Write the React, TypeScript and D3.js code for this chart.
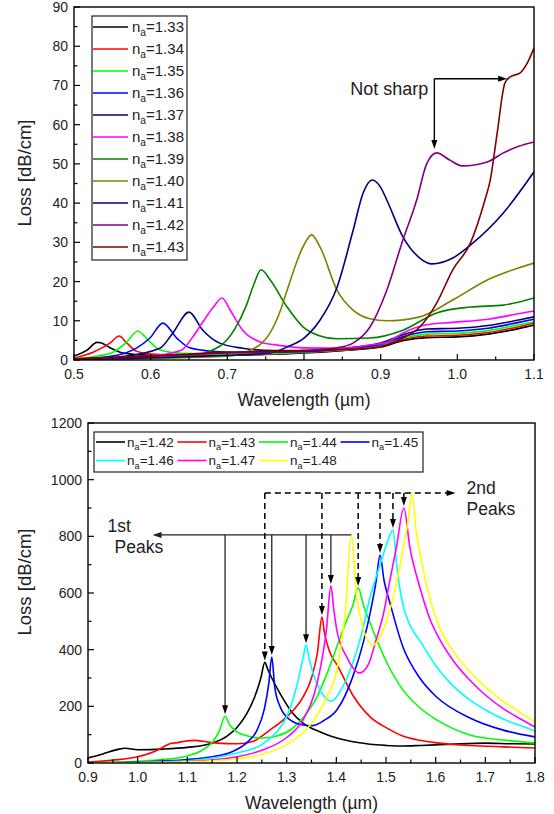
import React from "react";
import * as d3 from "d3";

type Pt = [number, number];

// ---- top panel: loss vs wavelength for n_a = 1.33 ... 1.43 ----
const topIndices = ["1.33", "1.34", "1.35", "1.36", "1.37", "1.38", "1.39", "1.40", "1.41", "1.42", "1.43"];
const topColors = ["#000000", "#ff0000", "#00ff00", "#0000ff", "#000080", "#ff00ff", "#008000", "#808000", "#000080", "#800080", "#800000"];

const loss133: Pt[] = [[0.5, 1.0], [0.517, 2.5], [0.53, 4.5], [0.535, 4.4], [0.547, 3.1], [0.56, 2.0], [0.575, 1.5], [0.6, 1.2], [0.65, 1.1], [0.7, 1.2], [0.75, 1.4], [0.8, 1.8], [0.85, 2.4], [0.9, 3.3], [0.93, 5.0], [0.96, 5.7], [1.0, 5.9], [1.04, 6.6], [1.08, 8.0], [1.1, 8.9]];
const loss134: Pt[] = [[0.5, 0.5], [0.525, 2.0], [0.547, 4.3], [0.559, 6.1], [0.569, 4.3], [0.582, 2.2], [0.6, 1.5], [0.65, 1.2], [0.7, 1.3], [0.75, 1.5], [0.8, 1.9], [0.85, 2.5], [0.9, 3.5], [0.93, 5.3], [0.96, 6.1], [1.0, 6.3], [1.04, 7.0], [1.08, 8.5], [1.1, 9.4]];
const loss135: Pt[] = [[0.5, 0.3], [0.53, 1.0], [0.551, 2.0], [0.569, 4.6], [0.583, 7.4], [0.599, 4.6], [0.612, 2.6], [0.64, 1.7], [0.7, 1.5], [0.75, 1.6], [0.8, 2.0], [0.85, 2.6], [0.9, 3.7], [0.93, 5.6], [0.96, 6.6], [1.0, 6.8], [1.04, 7.5], [1.08, 9.0], [1.1, 9.7]];
const loss136: Pt[] = [[0.5, 0.2], [0.55, 1.0], [0.582, 3.1], [0.599, 5.6], [0.616, 9.4], [0.634, 5.6], [0.651, 3.1], [0.68, 2.2], [0.72, 1.9], [0.8, 2.1], [0.85, 2.8], [0.9, 4.0], [0.93, 6.0], [0.96, 7.2], [1.0, 7.4], [1.04, 8.1], [1.08, 9.6], [1.1, 10.4]];
const loss137: Pt[] = [[0.5, 0.1], [0.56, 0.8], [0.612, 3.0], [0.629, 6.9], [0.65, 12.2], [0.668, 7.6], [0.69, 4.3], [0.72, 3.0], [0.76, 2.4], [0.8, 2.4], [0.85, 3.0], [0.9, 4.3], [0.93, 6.5], [0.96, 7.9], [1.0, 8.1], [1.04, 8.8], [1.08, 10.2], [1.1, 11.0]];
const loss138: Pt[] = [[0.5, 0.1], [0.6, 1.0], [0.64, 2.5], [0.655, 5.9], [0.668, 9.7], [0.682, 13.5], [0.693, 15.8], [0.705, 12.3], [0.72, 7.6], [0.743, 4.6], [0.765, 3.8], [0.8, 3.1], [0.85, 3.0], [0.886, 3.8], [0.908, 4.5], [0.929, 6.9], [0.96, 9.0], [0.994, 9.6], [1.04, 10.4], [1.08, 11.8], [1.1, 12.5]];
const loss139: Pt[] = [[0.5, 0.1], [0.65, 1.0], [0.69, 3.5], [0.71, 8], [0.725, 14], [0.735, 19.5], [0.744, 23], [0.756, 20.4], [0.778, 13.5], [0.799, 8.4], [0.82, 6.2], [0.843, 5.4], [0.886, 5.6], [0.929, 7.6], [0.973, 12], [1.017, 13.5], [1.06, 14], [1.1, 15.8]];
const loss140: Pt[] = [[0.5, 0.1], [0.7, 1.0], [0.73, 2.5], [0.745, 4.3], [0.756, 7], [0.769, 12.5], [0.778, 17.8], [0.799, 29], [0.81, 31.9], [0.821, 28.8], [0.843, 17.8], [0.864, 12.7], [0.886, 10.5], [0.908, 10], [0.951, 11], [0.994, 15.3], [1.039, 20.4], [1.1, 24.7]];
const loss141: Pt[] = [[0.5, 0.1], [0.7, 1.2], [0.756, 1.8], [0.78, 3.5], [0.8, 5.6], [0.821, 10.2], [0.843, 18.5], [0.864, 33], [0.877, 42.5], [0.889, 45.9], [0.9, 44], [0.908, 40.8], [0.929, 31.4], [0.951, 26], [0.967, 24.5], [0.994, 26], [1.017, 29.3], [1.06, 37.5], [1.1, 48]];
const loss142: Pt[] = [[0.5, 0.1], [0.7, 1.8], [0.8, 2.4], [0.843, 3.1], [0.864, 4.3], [0.886, 8.4], [0.908, 17.8], [0.929, 30.6], [0.947, 40.8], [0.96, 50], [0.973, 52.8], [0.99, 51], [1.006, 49.5], [1.039, 50.5], [1.06, 52.8], [1.08, 54.5], [1.1, 55.6]];
const loss143: Pt[] = [[0.5, 0.3], [0.6, 1.0], [0.7, 2.0], [0.8, 2.4], [0.886, 3.0], [0.929, 5.6], [0.951, 8.4], [0.973, 14.5], [0.994, 23], [1.017, 29.8], [1.036, 40.8], [1.043, 45.9], [1.052, 57.9], [1.062, 70.6], [1.069, 72.2], [1.082, 73.2], [1.092, 76], [1.1, 79.6]];
const topSeries = [loss133, loss134, loss135, loss136, loss137, loss138, loss139, loss140, loss141, loss142, loss143];

const topXTicks = [0.5, 0.6, 0.7, 0.8, 0.9, 1.0, 1.1];
const topYTicks = [0, 10, 20, 30, 40, 50, 60, 70, 80, 90];

// "Not sharp" pointers: corner, tip on n_a=1.42 bump, tip on n_a=1.43 shoulder
const notSharpCorner: Pt = [0.97, 71.7];
const notSharpTips: Pt[] = [[0.97, 53.8], [1.065, 71.7]];

// ---- bottom panel: n_a = 1.42 ... 1.48, wavelength 0.9-1.8 µm ----
const bottomIndices = ["1.42", "1.43", "1.44", "1.45", "1.46", "1.47", "1.48"];
const bottomColors = ["#000000", "#ff0000", "#00ff00", "#0000ff", "#00ffff", "#ff00ff", "#ffff00"];

const bLoss142: Pt[] = [[0.9, 18], [0.93, 32], [0.96, 48], [0.975, 52], [1.0, 47], [1.05, 49], [1.1, 55], [1.15, 70], [1.18, 95], [1.2, 125], [1.22, 175], [1.235, 230], [1.248, 300], [1.256, 355], [1.262, 330], [1.27, 300], [1.29, 235], [1.31, 180], [1.333, 141], [1.37, 108], [1.401, 88], [1.44, 73], [1.468, 66], [1.5, 62], [1.534, 60], [1.57, 62], [1.6, 64], [1.65, 68], [1.7, 70], [1.75, 68], [1.8, 67]];
const bLoss143: Pt[] = [[0.9, 3], [0.95, 10], [1.0, 22], [1.03, 38], [1.05, 55], [1.065, 68], [1.08, 72], [1.1, 78], [1.115, 80], [1.13, 77], [1.16, 70], [1.2, 68], [1.23, 75], [1.266, 116], [1.3, 163], [1.333, 233], [1.35, 300], [1.362, 390], [1.371, 515], [1.376, 460], [1.386, 395], [1.403, 342], [1.433, 240], [1.468, 163], [1.502, 123], [1.534, 95], [1.568, 80], [1.602, 71], [1.669, 62], [1.736, 57], [1.8, 53]];
const bLoss144: Pt[] = [[0.9, 1], [1.0, 6], [1.05, 12], [1.1, 25], [1.13, 45], [1.15, 72], [1.165, 115], [1.176, 165], [1.185, 135], [1.2, 110], [1.22, 96], [1.25, 88], [1.28, 95], [1.31, 120], [1.333, 160], [1.36, 230], [1.38, 310], [1.401, 410], [1.42, 500], [1.433, 555], [1.444, 618], [1.455, 555], [1.468, 494], [1.502, 353], [1.534, 258], [1.568, 195], [1.602, 152], [1.669, 99], [1.736, 81], [1.8, 71]];
const bLoss145: Pt[] = [[0.9, 0], [1.0, 3], [1.1, 12], [1.15, 22], [1.19, 40], [1.22, 72], [1.24, 115], [1.255, 190], [1.264, 280], [1.27, 374], [1.276, 268], [1.287, 198], [1.307, 152], [1.333, 134], [1.353, 132], [1.375, 150], [1.401, 187], [1.433, 304], [1.455, 430], [1.468, 529], [1.48, 640], [1.488, 734], [1.496, 645], [1.508, 565], [1.534, 410], [1.568, 300], [1.602, 233], [1.669, 159], [1.736, 116], [1.8, 92]];
const bLoss146: Pt[] = [[0.9, 0], [1.0, 2], [1.1, 8], [1.2, 35], [1.25, 65], [1.28, 110], [1.3, 163], [1.32, 270], [1.333, 370], [1.339, 416], [1.345, 370], [1.353, 318], [1.367, 258], [1.39, 218], [1.41, 260], [1.433, 353], [1.45, 450], [1.468, 586], [1.49, 710], [1.502, 776], [1.514, 822], [1.522, 690], [1.528, 615], [1.534, 560], [1.545, 500], [1.555, 465], [1.568, 432], [1.602, 339], [1.635, 272], [1.669, 222], [1.7, 188], [1.736, 155], [1.77, 132], [1.8, 113]];
const bLoss147: Pt[] = [[0.9, 0], [1.0, 1], [1.1, 5], [1.2, 22], [1.25, 45], [1.3, 90], [1.333, 152], [1.355, 240], [1.367, 328], [1.38, 469], [1.389, 625], [1.395, 540], [1.401, 469], [1.421, 374], [1.447, 318], [1.465, 350], [1.48, 434], [1.494, 520], [1.508, 646], [1.521, 762], [1.536, 900], [1.548, 762], [1.568, 621], [1.588, 510], [1.61, 430], [1.635, 362], [1.669, 292], [1.7, 240], [1.736, 192], [1.77, 156], [1.8, 127]];
const bLoss148: Pt[] = [[0.9, 0], [1.0, 1], [1.1, 4], [1.2, 15], [1.25, 30], [1.3, 65], [1.35, 140], [1.38, 230], [1.401, 328], [1.418, 529], [1.43, 805], [1.441, 586], [1.453, 480], [1.474, 416], [1.494, 469], [1.521, 635], [1.534, 752], [1.545, 860], [1.552, 953], [1.56, 830], [1.574, 690], [1.59, 570], [1.609, 475], [1.635, 395], [1.669, 322], [1.7, 268], [1.736, 218], [1.77, 178], [1.8, 145]];
const bottomSeries = [bLoss142, bLoss143, bLoss144, bLoss145, bLoss146, bLoss147, bLoss148];

const bottomXTicks = [0.9, 1.0, 1.1, 1.2, 1.3, 1.4, 1.5, 1.6, 1.7, 1.8];
const bottomYTicks = [0, 200, 400, 600, 800, 1000, 1200];

// peaks pointed at: [series index, wavelength]
const firstPeaks: [number, number][] = [[2, 1.176], [3, 1.27], [4, 1.339], [5, 1.389], [6, 1.43]];
const secondPeaks: [number, number][] = [[0, 1.256], [1, 1.371], [2, 1.444], [3, 1.488], [4, 1.514], [5, 1.536], [6, 1.552]];
const firstArrowEnd = 1.03;
const secondArrowEnd = 1.64;

const FONT = "'Liberation Sans', Arial, Helvetica, sans-serif";

const peakValue = (series: Pt[], lam: number) =>
  series.reduce((a, b) => (Math.abs(b[0] - lam) < Math.abs(a[0] - lam) ? b : a))[1];

// filled triangle, tip at (x,y), pointing "down" or "left" or "right"
function arrowHead(x: number, y: number, dir: string, len = 9, half = 3) {
  if (dir === "down") return `M${x},${y}L${x - half},${y - len}L${x + half},${y - len}Z`;
  if (dir === "left") return `M${x},${y}L${x + len},${y - half}L${x + len},${y + half}Z`;
  return `M${x},${y}L${x - len},${y - half}L${x - len},${y + half}Z`;
}

function Axes(props: {
  x: d3.ScaleLinear<number, number>;
  y: d3.ScaleLinear<number, number>;
  xTicks: number[];
  yTicks: number[];
  title: string;
  xTitleY: number;
  yTitleY: number;
}) {
  const { x, y, xTicks, yTicks } = props;
  const [x0, x1] = x.range();
  const [y0, y1] = y.range();
  const xMinor = xTicks.slice(1).map((t, i) => (t + xTicks[i]) / 2);
  const yMinor = yTicks.slice(1).map((t, i) => (t + yTicks[i]) / 2);
  return (
    <g fontFamily={FONT} fill="#222">
      <rect x={x0} y={y1} width={x1 - x0} height={y0 - y1} fill="none" stroke="#000" strokeWidth={1.4} />
      {xTicks.map((t) => (
        <g key={"xt" + t}>
          <line x1={x(t)} x2={x(t)} y1={y0} y2={y0 - 6} stroke="#000" strokeWidth={1.2} />
          <text x={x(t)} y={y0 + 19} fontSize={14} textAnchor="middle">{t.toFixed(1)}</text>
        </g>
      ))}
      {xMinor.map((t) => (
        <line key={"xm" + t} x1={x(t)} x2={x(t)} y1={y0} y2={y0 - 3.5} stroke="#000" strokeWidth={1.2} />
      ))}
      {yTicks.map((t) => (
        <g key={"yt" + t}>
          <line x1={x0} x2={x0 + 6} y1={y(t)} y2={y(t)} stroke="#000" strokeWidth={1.2} />
          <text x={x0 - 6} y={y(t) + 5} fontSize={14} textAnchor="end">{String(t)}</text>
        </g>
      ))}
      {yMinor.map((t) => (
        <line key={"ym" + t} x1={x0} x2={x0 + 3.5} y1={y(t)} y2={y(t)} stroke="#000" strokeWidth={1.2} />
      ))}
      <text x={(x0 + x1) / 2} y={props.xTitleY} fontSize={17.5} textAnchor="middle">Wavelength (µm)</text>
      <text transform={`translate(31,${props.yTitleY}) rotate(-90)`} fontSize={18.5} textAnchor="middle">{props.title}</text>
    </g>
  );
}

function LegendLabel(props: { x: number; y: number; idx: string; size: number }) {
  return (
    <text x={props.x} y={props.y} fontSize={props.size} fontFamily={FONT} fill="#222">
      n<tspan fontSize={props.size * 0.68} dy={props.size * 0.28}>a</tspan>
      <tspan dy={-props.size * 0.28}>={props.idx}</tspan>
    </text>
  );
}

export default function App() {
  const xT = d3.scaleLinear().domain([0.5, 1.1]).range([74, 534]);
  const yT = d3.scaleLinear().domain([0, 90]).range([360, 7]);
  const xB = d3.scaleLinear().domain([0.9, 1.8]).range([88, 535]);
  const yB = d3.scaleLinear().domain([0, 1200]).range([763, 423]);

  const lineT = d3.line<Pt>().x((d) => xT(d[0])).y((d) => yT(d[1])).curve(d3.curveMonotoneX);
  const lineB = d3.line<Pt>().x((d) => xB(d[0])).y((d) => yB(d[1])).curve(d3.curveMonotoneX);

  // top annotation
  const cx = xT(notSharpCorner[0]);
  const cy = yT(notSharpCorner[1]);
  const tipDown = [xT(notSharpTips[0][0]), yT(notSharpTips[0][1])];
  const tipRight = [xT(notSharpTips[1][0]), yT(notSharpTips[1][1])];

  // bottom annotation
  const firstLevel = yB(peakValue(bottomSeries[6], 1.43));
  const secondLevel = yB(peakValue(bottomSeries[6], 1.552));
  const firstTipX = xB(firstArrowEnd);
  const secondTipX = xB(secondArrowEnd);
  const secondStartX = xB(secondPeaks[0][1]);

  return (
    <svg width={554} height={814} style={{ position: "absolute", left: 0, top: 0, background: "#fff" }}>
      <defs>
        <clipPath id="clipT"><rect x={74} y={7} width={460} height={353} /></clipPath>
        <clipPath id="clipB"><rect x={88} y={423} width={447} height={340} /></clipPath>
      </defs>

      {/* ---------- top panel ---------- */}
      <g clipPath="url(#clipT)">
        {topSeries.map((s, i) => (
          <path key={"t" + i} d={lineT(s) || ""} fill="none" stroke={topColors[i]} strokeWidth={1.6} />
        ))}
      </g>
      <Axes x={xT} y={yT} xTicks={topXTicks} yTicks={topYTicks} title="Loss [dB/cm]" xTitleY={406} yTitleY={173} />

      <rect x={92} y={16} width={95} height={244} fill="#fff" stroke="#222" strokeWidth={1.2} />
      {topIndices.map((n, i) => (
        <g key={"lt" + n}>
          <line x1={93} x2={128} y1={27 + 22 * i} y2={27 + 22 * i} stroke={topColors[i]} strokeWidth={1.6} />
          <LegendLabel x={132} y={32 + 22 * i} idx={n} size={15} />
        </g>
      ))}

      <g stroke="#000" strokeWidth={1.4} fill="none">
        <line x1={cx} x2={cx} y1={cy} y2={tipDown[1] - 8} />
        <line x1={cx} x2={tipRight[0] - 8} y1={cy} y2={cy} />
      </g>
      <path d={arrowHead(tipDown[0], tipDown[1], "down")} fill="#000" />
      <path d={arrowHead(tipRight[0], cy, "right")} fill="#000" />
      <text x={cx - 6} y={cy + 16} fontSize={18} fontFamily={FONT} textAnchor="end" fill="#222">Not sharp</text>

      {/* ---------- bottom panel ---------- */}
      <g clipPath="url(#clipB)">
        {bottomSeries.map((s, i) => (
          <path key={"b" + i} d={lineB(s) || ""} fill="none" stroke={bottomColors[i]} strokeWidth={1.6} />
        ))}
      </g>
      <Axes x={xB} y={yB} xTicks={bottomXTicks} yTicks={bottomYTicks} title="Loss [dB/cm]" xTitleY={809} yTitleY={582} />

      <rect x={94} y={432} width={329} height={40} fill="#fff" stroke="#222" strokeWidth={1.2} />
      {bottomIndices.map((n, i) => {
        const col = i % 4;
        const row = Math.floor(i / 4);
        const lx = 96 + col * 81.5;
        const ly = 442 + row * 18.5;
        return (
          <g key={"lb" + n}>
            <line x1={lx} x2={lx + 29} y1={ly} y2={ly} stroke={bottomColors[i]} strokeWidth={1.6} />
            <LegendLabel x={lx + 31} y={ly + 4.5} idx={n} size={13.5} />
          </g>
        );
      })}

      {/* 1st peaks: solid */}
      <g stroke="#222" strokeWidth={1.3} fill="none">
        <line x1={firstTipX + 8} x2={xB(1.43)} y1={firstLevel} y2={firstLevel} />
        {firstPeaks.slice(0, 4).map(([si, lam]) => (
          <line key={"fp" + si} x1={xB(lam)} x2={xB(lam)} y1={firstLevel} y2={yB(peakValue(bottomSeries[si], lam)) - 10} />
        ))}
      </g>
      <path d={arrowHead(firstTipX, firstLevel, "left")} fill="#222" />
      {firstPeaks.slice(0, 4).map(([si, lam]) => (
        <path key={"fa" + si} d={arrowHead(xB(lam), yB(peakValue(bottomSeries[si], lam)) - 2, "down")} fill="#000" />
      ))}
      <text x={firstTipX - 45} y={firstLevel - 3} fontSize={17.5} fontFamily={FONT} fill="#222">1st</text>
      <text x={firstTipX - 38} y={firstLevel + 18} fontSize={17.5} fontFamily={FONT} fill="#222">Peaks</text>

      {/* 2nd peaks: dashed */}
      <g stroke="#000" strokeWidth={1.5} fill="none" strokeDasharray="6 4">
        <line x1={secondStartX} x2={secondTipX - 8} y1={secondLevel} y2={secondLevel} />
        {secondPeaks.slice(0, 6).map(([si, lam]) => (
          <line key={"sp" + si} x1={xB(lam)} x2={xB(lam)} y1={secondLevel} y2={yB(peakValue(bottomSeries[si], lam)) - 10} />
        ))}
      </g>
      <path d={arrowHead(secondTipX, secondLevel, "right")} fill="#000" />
      {secondPeaks.slice(0, 6).map(([si, lam]) => (
        <path key={"sa" + si} d={arrowHead(xB(lam), yB(peakValue(bottomSeries[si], lam)) - 2, "down")} fill="#000" />
      ))}
      <text x={secondTipX + 11} y={secondLevel + 1} fontSize={17.5} fontFamily={FONT} fill="#222">2nd</text>
      <text x={secondTipX + 11} y={secondLevel + 22} fontSize={17.5} fontFamily={FONT} fill="#222">Peaks</text>
    </svg>
  );
}
